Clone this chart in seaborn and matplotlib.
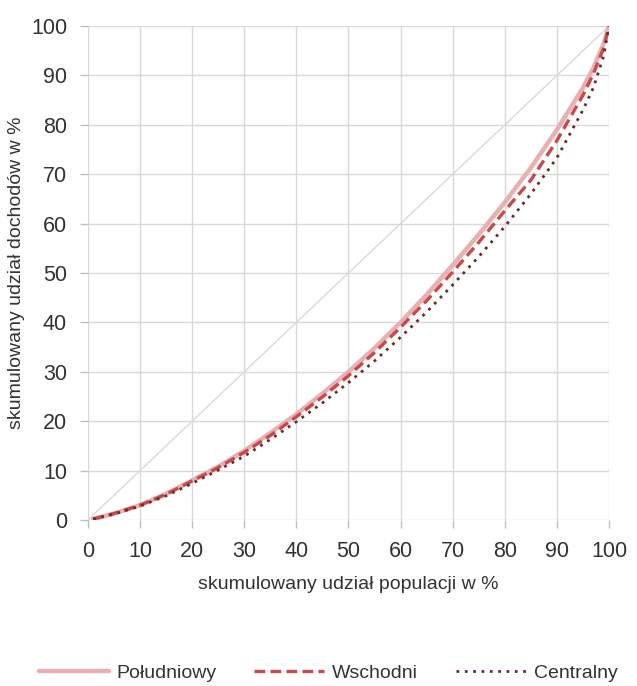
import numpy as np
import pandas as pd
import matplotlib
matplotlib.use('Agg')
import matplotlib.pyplot as plt
import seaborn as sns

# Krzywe Lorenza
populacja = [0, 1, 5, 10, 15, 20, 25, 30, 35, 40, 45, 50, 55, 60, 65, 70, 75, 80, 85, 90, 95, 97, 99, 100]
poludniowy = [0, 0.2, 1.3, 3.0, 5.3, 8.0, 10.8, 14.0, 17.6, 21.4, 25.6, 30.0, 34.8, 40.0, 45.6, 51.6, 57.8, 64.3, 71.3, 79.0, 87.5, 91.5, 96.5, 100]
wschodni = [0, 0.2, 1.3, 3.0, 5.2, 7.9, 10.6, 13.7, 17.1, 20.9, 24.9, 29.2, 33.9, 39.0, 44.4, 50.2, 56.2, 62.6, 68.8, 76.8, 86.0, 90.3, 95.6, 100]
centralny = [0, 0.2, 1.2, 2.8, 4.9, 7.4, 10.1, 12.9, 16.3, 19.9, 23.7, 27.8, 32.2, 37.0, 42.1, 47.6, 53.3, 59.4, 66.0, 73.3, 83.0, 87.5, 94.0, 100]
# krzywe zaczynają się od 1%
start = 1

df = pd.DataFrame({'x': populacja, 'Południowy': poludniowy, 'Wschodni': wschodni, 'Centralny': centralny})
df = df[df['x'] >= start]

sns.set_style('whitegrid')
plt.rcParams['font.family'] = ['Liberation Sans Narrow', 'Liberation Sans', 'DejaVu Sans']

fig = plt.figure(figsize=(6.37, 6.86), dpi=100)
ax = fig.add_axes([0.138, 0.242, 0.818, 0.72])

# linia równości
sns.lineplot(x=[0, 100], y=[0, 100], color='#d9d9d9', linewidth=1, ax=ax)

sns.lineplot(data=df, x='x', y='Południowy', color='#e8b0b0', linewidth=3.2,
             label='Południowy', ax=ax)
sns.lineplot(data=df, x='x', y='Wschodni', color='#c9494a', linewidth=2.4,
             dashes=(3.2, 1.6), label='Wschodni', ax=ax)
sns.lineplot(data=df, x='x', y='Centralny', color='#6b2a2a', linewidth=2.0,
             linestyle=(0, (1, 2)), label='Centralny', ax=ax)

ax.set_xlim(0, 100)
ax.set_ylim(0, 100)
ax.set_xticks(range(0, 101, 10))
ax.set_yticks(range(0, 101, 10))
ax.grid(color='#d9d9d9', linewidth=1)
for s in ax.spines.values():
    s.set_visible(False)
ax.tick_params(axis='both', length=6, color='#bfbfbf', width=1, labelsize=15.5,
               labelcolor='#333333', pad=9)
ax.tick_params(axis='both', which='both', bottom=True, left=True)
ax.set_xlabel('skumulowany udział populacji w %', fontsize=14, color='#333333', labelpad=10)
ax.set_ylabel('skumulowany udział dochodów w %', fontsize=14, color='#333333', labelpad=4)

handles, labels = ax.get_legend_handles_labels()
ax.get_legend().remove()
fig.legend(handles, labels, loc='lower center', bbox_to_anchor=(0.515, 0.0), ncol=3,
           frameon=False, fontsize=14, handlelength=3.6, columnspacing=1.95,
           handletextpad=0.4, borderaxespad=0.0, borderpad=0.2, labelcolor='#333333')

fig.savefig('out.png', dpi=100)
